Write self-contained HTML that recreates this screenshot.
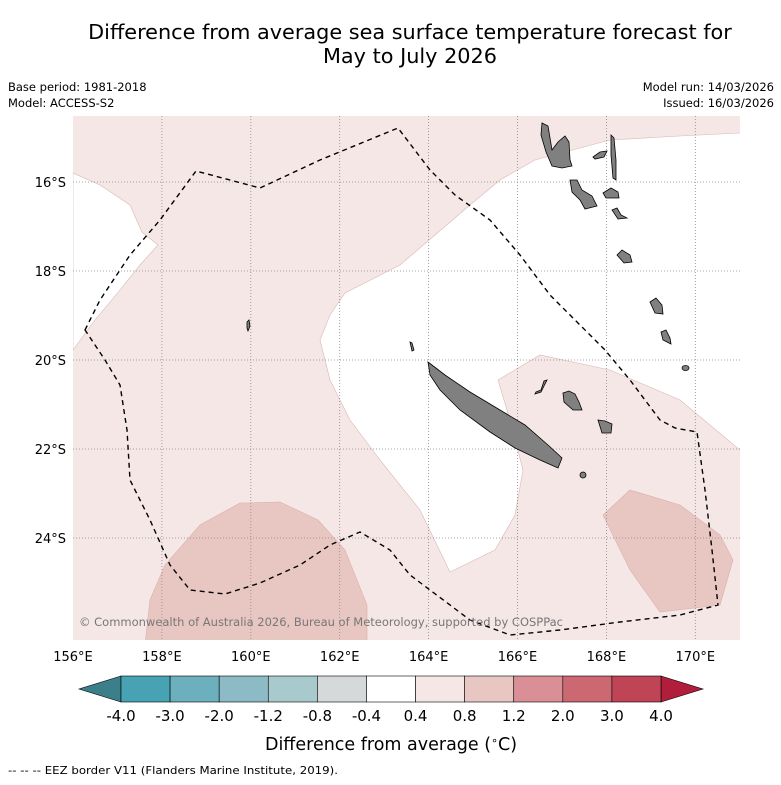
<!DOCTYPE html>
<html><head><meta charset="utf-8">
<style>
body{margin:0;background:#fff;font-family:"DejaVu Sans","Liberation Sans",sans-serif;}
svg text{font-family:"DejaVu Sans","Liberation Sans",sans-serif;}
</style></head>
<body>
<svg id="chart" width="781" height="781" viewBox="0 0 781 781" xmlns="http://www.w3.org/2000/svg">
<text x="410" y="39" font-size="20.8" text-anchor="middle" fill="#000">Difference from average sea surface temperature forecast for</text>
<text x="410" y="63" font-size="20.8" text-anchor="middle" fill="#000">May to July 2026</text>
<text x="8" y="91" font-size="11.5">Base period: 1981-2018</text>
<text x="8" y="107" font-size="11.5">Model: ACCESS-S2</text>
<text x="774" y="91" font-size="11.5" text-anchor="end">Model run: 14/03/2026</text>
<text x="774" y="107" font-size="11.5" text-anchor="end">Issued: 16/03/2026</text>
<defs><clipPath id="mapclip"><rect x="73" y="116" width="667" height="524"/></clipPath></defs>
<g id="map" clip-path="url(#mapclip)">
<rect x="73" y="116" width="667" height="524" fill="#f5e7e6"/>
<path d="M73,173 L100,185 L130,205 L142,232 L158,245 L140,265 L120,290 L95,320 L73,350 Z" fill="#fff" stroke="#d8b8b5" stroke-width="0.6"/>
<path d="M740,133 L680,136 L610,140 L535,160 L500,180 L470,205 L400,265 L345,293 L330,315 L320,340 L330,380 L350,420 L380,460 L420,510 L450,572 L495,550 L515,515 L523,470 L510,420 L498,380 L540,355 L610,370 L680,400 L740,450 L745,450 L745,133 Z" fill="#fff" stroke="#d8b8b5" stroke-width="0.6"/>
<path d="M145,645 L150,600 L165,565 L200,525 L240,503 L280,502 L318,520 L345,550 L367,605 L367,645 Z" fill="#e8c7c3" stroke="#d8b0ab" stroke-width="0.6"/>
<path d="M603,515 L630,490 L680,505 L720,535 L733,560 L720,605 L660,612 L630,570 Z" fill="#e8c7c3" stroke="#d8b0ab" stroke-width="0.6"/>
<g id="grid" stroke="#888" stroke-width="0.8" stroke-dasharray="1,2"></g>
<g fill="#808080" stroke="#000" stroke-width="0.8">
<path d="M428,362 L445,375 L470,392 L500,410 L525,425 L548,445 L562,458 L558,468 L540,460 L515,448 L490,432 L460,410 L440,390 L430,375 Z"/>
<path d="M542,123 L548,126 L552,150 L558,142 L565,136 L569,142 L570,160 L572,166 L562,168 L552,166 L546,152 L541,135 Z"/>
<path d="M570,180 L577,180 L582,190 L592,196 L597,206 L585,209 L580,200 L572,192 Z"/>
<path d="M617,255 L622,250 L630,255 L632,262 L624,263 Z"/>
<path d="M650,302 L656,298 L662,305 L663,314 L655,313 Z"/>
<path d="M661,332 L666,330 L670,338 L671,344 L663,340 Z"/>
<path d="M682,368 a3.5,2.5 0 1,0 7,0 a3.5,2.5 0 1,0 -7,0 Z"/>
<path d="M611,135 L614,138 L616,160 L616,180 L613,178 L611,155 Z"/>
<path d="M593,157 L600,152 L607,151 L604,157 L595,159 Z"/>
<path d="M603,193 L611,188 L618,192 L619,198 L606,198 Z"/>
<path d="M612,210 L617,208 L621,215 L627,218 L618,219 Z"/>
<path d="M563,393 L569,391 L575,394 L579,402 L582,410 L573,410 L564,402 Z"/>
<path d="M598,420 L605,421 L612,424 L611,433 L602,433 Z"/>
<path d="M536,392 L541,390 L544,381 L547,380 L544,386 L541,392 L535,394 Z"/>
<path d="M580,475 a3,3 0 1,0 6,0 a3,3 0 1,0 -6,0 Z"/>
<path d="M247,322 L249,320 L250,326 L248,331 L247,328 Z"/>
<path d="M410,342 L412,343 L414,350 L412,351 Z"/>
</g>
<path id="eez" d="M85,330 L100,300 L130,255 L160,220 L196,171 L260,188 L320,160 L398,128 L430,170 L455,195 L490,220 L520,255 L550,295 L580,325 L605,350 L630,380 L660,420 L675,428 L697,432 L705,490 L712,550 L718,605 L680,615 L620,622 L560,630 L510,635 L470,620 L430,590 L410,575 L390,550 L360,532 L330,545 L300,565 L260,583 L225,594 L190,590 L170,565 L150,520 L130,480 L127,430 L120,385 L105,360 Z" fill="none" stroke="#000" stroke-width="1.4" stroke-dasharray="5,4"/>
<text x="79" y="626" font-size="11.6" fill="#777" textLength="484" lengthAdjust="spacingAndGlyphs">© Commonwealth of Australia 2026, Bureau of Meteorology, supported by COSPPac</text>
</g>
<g id="axes"></g>
<g id="cbar"></g>
<text x="391" y="750" font-size="17.5" text-anchor="middle">Difference from average (<tspan font-size="11" dy="-6">∘</tspan><tspan dy="6">C)</tspan></text>
<text x="8" y="774" font-size="11" textLength="330" lengthAdjust="spacingAndGlyphs">--  --  -- EEZ border V11 (Flanders Marine Institute, 2019).</text>
</svg>
<script>
const lonTicks=[156,158,160,162,164,166,168,170];
const latTicks=[16,18,20,22,24];
const cbLevels=["-4.0","-3.0","-2.0","-1.2","-0.8","-0.4","0.4","0.8","1.2","2.0","3.0","4.0"];
const cbColors=["#47a3b3","#6bb0bc","#8cbbc5","#a9cacd","#d5d9da","#ffffff","#f5e7e6","#e8c7c3","#d98f95","#cc6872","#bf4556"];
const cbUnder="#3a7f89", cbOver="#b01e3c";
const NS="http://www.w3.org/2000/svg";
const lonX=l=>73+(l-156)*44.45;
const latY=l=>182+(l-16)*44.5;
function mk(t,a,p){const e=document.createElementNS(NS,t);for(const k in a)e.setAttribute(k,a[k]);p.appendChild(e);return e;}
const grid=document.getElementById('grid'),axes=document.getElementById('axes');
lonTicks.forEach(l=>{
 if(l>156){const g=mk('line',{x1:lonX(l),x2:lonX(l),y1:116,y2:640},grid);
 
 }
 const t=mk('text',{x:lonX(l),y:661,'font-size':13,'text-anchor':'middle'},axes);
 
 
 t.textContent=l+'°E';
});
latTicks.forEach(l=>{
 const g=mk('line',{x1:73,x2:740,y1:latY(l),y2:latY(l)},grid);
 
 
 const t=mk('text',{x:66,y:latY(l)+5,'font-size':13,'text-anchor':'end'},axes);
 
 
 t.textContent=l+'°S';
});
const cb=document.getElementById('cbar');
const x0=121,x1=661,y0=676,y1=702,w=(x1-x0)/cbColors.length;
const u=mk('polygon',{points:`${x0},${y0} ${x0},${y1} 79,${(y0+y1)/2}`,fill:cbUnder,stroke:'#000','stroke-width':0.6},cb);


const o=mk('polygon',{points:`${x1},${y0} ${x1},${y1} 703,${(y0+y1)/2}`,fill:cbOver,stroke:'#000','stroke-width':0.6},cb);


cbColors.forEach((c,i)=>{
 const r=mk('rect',{x:x0+i*w,y:y0,width:w,height:y1-y0,fill:c,stroke:'#000','stroke-width':0.6},cb);
 
 
});
cbLevels.forEach((s,i)=>{
 const t=mk('text',{x:x0+i*w,y:721,'font-size':15,'text-anchor':'middle'},cb);
 
 
 t.textContent=s;
});
</script>
</body></html>
